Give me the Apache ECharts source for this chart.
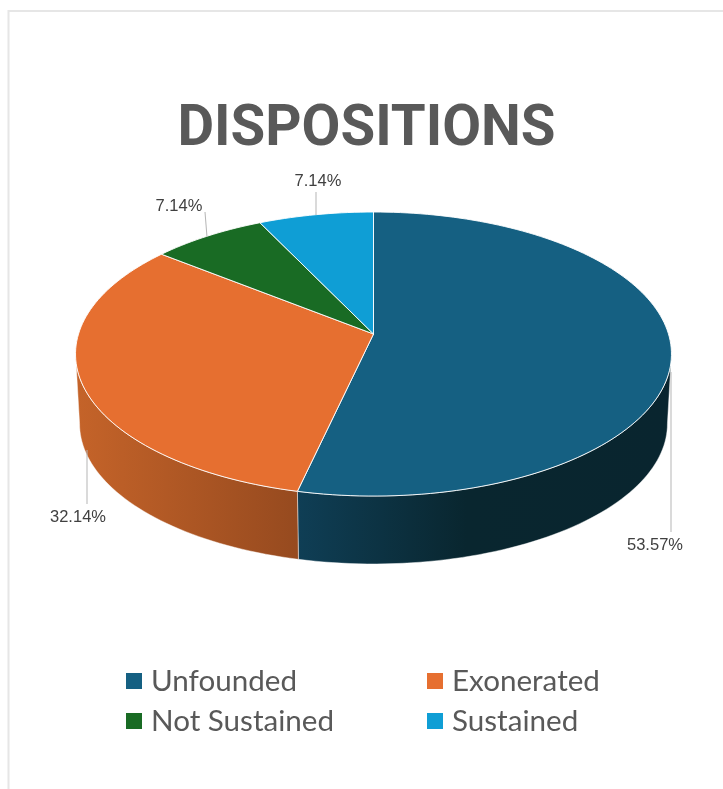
<!DOCTYPE html>
<html><head><meta charset="utf-8">
<style>html,body{margin:0;padding:0;background:#fff}#c{width:723px;height:789px}</style>
<script src="https://cdn.jsdelivr.net/npm/echarts@6/dist/echarts.min.js"></script>
</head><body><div id="c"></div>
<script>
// Data
const categories = ['Unfounded', 'Exonerated', 'Not Sustained', 'Sustained'];
const counts = [15, 9, 2, 2];
const chartTitle = 'DISPOSITIONS';

// Styles
const topColors = ['#156082', '#E66F30', '#196B24', '#0F9ED5'];
const wallStops = [
  [[0, '#0f3e55'], [0.45, '#09262f'], [1, '#09252f']],
  [[0, '#c46329'], [1, '#964a1f']],
  null, null
];
const wallSpan = [[299, 671], [79, 299], null, null];

// Projection of the tilted disc
const k = 0.141;
const discTop = { cx: 373.5, cy: 334, rx: 295, ry: 139.2 };
const discBase = { cx: 373.5, cy: 404, rx: 291, ry: 137.4 };
function project(d, deg) {
  const t = deg * Math.PI / 180, u = Math.sin(t), v = -Math.cos(t), s = 1 / (1 - k * v);
  return [d.cx + d.rx * u * s, d.cy + d.ry * v * s];
}
function arc(d, a, b) {
  const n = Math.max(2, Math.ceil(Math.abs(b - a) / 1.5)), pts = [];
  for (let i = 0; i <= n; i++) pts.push(project(d, a + (b - a) * i / n));
  return pts;
}
const total = counts.reduce((a, b) => a + b, 0);
const starts = counts.map((_, i) => counts.slice(0, i).reduce((a, b) => a + b, 0));
const WALL_FROM = 98, WALL_TO = 262;

// Label layout: leader line from/to and text centre
const labelLayout = [
  { line: [[671, 372], [671, 532]], text: [655, 545] },
  { line: [[87, 450], [87, 504]], text: [78, 517] },
  { line: [[207, 237], [205, 212]], text: [179, 206.5] },
  { line: [[316, 215], [316, 192]], text: [318, 181] }
];

function renderSlice(i) {
  return function (params, api) {
    const a = api.value(0) / total * 360, b = (api.value(0) + api.value(1)) / total * 360;
    const children = [];
    const wa = Math.max(a, WALL_FROM), wb = Math.min(b, WALL_TO);
    if (wb > wa && wallStops[i]) {
      const pts = arc(discTop, wa, wb).concat(arc(discBase, wb, wa));
      const [x0, x1] = wallSpan[i];
      children.push({
        type: 'polygon', shape: { points: pts },
        style: {
          fill: new echarts.graphic.LinearGradient(x0, 0, x1, 0,
            wallStops[i].map(s => ({ offset: s[0], color: s[1] })), true),
          stroke: 'rgba(255,255,255,0.55)', lineWidth: 0.8, lineJoin: 'round'
        }
      });
    }
    const top = [[discTop.cx, discTop.cy]].concat(arc(discTop, a, b));
    children.push({
      type: 'polygon', shape: { points: top },
      style: { fill: api.visual('color'), stroke: 'rgba(255,255,255,0.9)', lineWidth: 1, lineJoin: 'round' }
    });
    const L = labelLayout[i];
    children.push({
      type: 'polyline', shape: { points: L.line },
      style: { fill: null, stroke: '#b5b5b5', lineWidth: 1 }, z2: 5
    });
    children.push({
      type: 'text', z2: 6,
      style: {
        x: L.text[0], y: L.text[1], align: 'center', verticalAlign: 'middle',
        text: (api.value(1) / total * 100).toFixed(2) + '%',
        fill: '#404040', font: '16.5px "Liberation Sans"'
      }
    });
    return { type: 'group', children };
  };
}

const legendBase = {
  orient: 'vertical', icon: 'rect', itemWidth: 16, itemHeight: 16, itemGap: 4,
  selectedMode: false,
  textStyle: { fontFamily: 'Lato', fontSize: 29.6, color: '#595959', lineHeight: 36, padding: [0, 0, 0, 4] }
};

const chart = echarts.init(document.getElementById('c'), null, { renderer: 'canvas', width: 723, height: 789 });
chart.setOption({
  animation: false,
  backgroundColor: '#fff',
  graphic: [{
    type: 'polyline', silent: true, z: -1,
    shape: { points: [[8.5, 789], [8.5, 11], [723, 11]] },
    style: { fill: null, stroke: '#e6e6e6', lineWidth: 2 }
  }, {
    type: 'text', silent: true, x: 177.5, y: 131, scaleX: 0.98, originX: 0, originY: 0,
    style: {
      text: chartTitle, fill: '#595959', verticalAlign: 'middle', align: 'left',
      font: 'bold 57.5px Roboto'
    }
  }],
  legend: [
    Object.assign({}, legendBase, { left: 126, top: 663, padding: 0, data: [categories[0], categories[2]] }),
    Object.assign({}, legendBase, { left: 427, top: 663, padding: 0, data: [categories[1], categories[3]] })
  ],
  series: categories.map((name, i) => ({
    type: 'custom', name, coordinateSystem: 'none', silent: true,
    itemStyle: { color: topColors[i] },
    renderItem: renderSlice(i),
    encode: { value: [0, 1] },
    data: [[starts[i], counts[i]]]
  }))
});
</script></body></html>
